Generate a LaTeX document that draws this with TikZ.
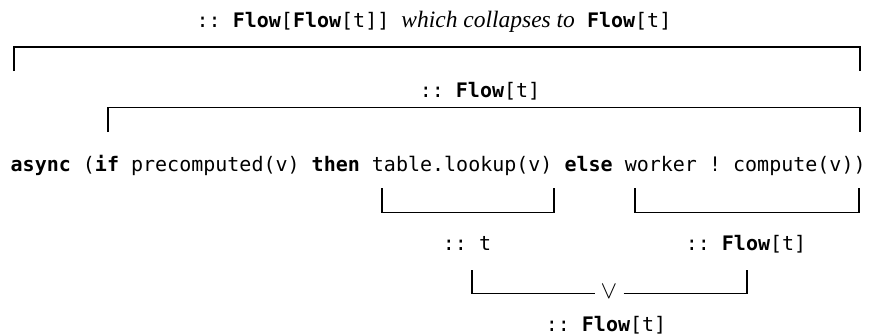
\documentclass[tikz,border=0pt]{standalone}
\usepackage{fontspec}
\setmainfont{Liberation Serif}
\setmonofont{DejaVu Sans Mono}
\usetikzlibrary{positioning}

\newcommand{\kw}[1]{\textbf{#1}}

\begin{document}
\begin{tikzpicture}[x=1pt,y=-1pt,
  every node/.style={inner sep=0pt,font=\fontsize{20}{24}\selectfont\ttfamily},
  brk/.style={line width=1.7pt}]
  \useasboundingbox (0,0) rectangle (874,335);
  % type labels and the expression
  \node (whole) [anchor=base] at (434,27) {:: \kw{Flow}[\kw{Flow}[t]] {\fontsize{23.5}{24}\rmfamily\itshape which collapses to} \kw{Flow}[t]};
  \node (mid) [anchor=base] at (480,97) {:: \kw{Flow}[t]};
  \node (code) [anchor=base west] at (10.5,171) {\kw{async} (\kw{if} precomputed(v) \kw{then} table.lookup(v) \kw{else} worker ! compute(v))};
  \node (tt) [anchor=base] at (467,250) {:: t};
  \node (tf) [anchor=base] at (746,250) {:: \kw{Flow}[t]};
  \node (orsym) [inner xsep=6pt,font=\fontsize{28}{30}\selectfont] at (609,292) {$\vee$};
  \node (res) [anchor=base] at (606,331) {:: \kw{Flow}[t]};
  % brackets
  \draw[brk] (14,71) |- (860,47) -- (860,71);
  \draw[brk] (108,132) |- (860,107.5) -- (860,132);
  \draw[brk] (382,188) |- (554,212.5) -- (554,188);
  \draw[brk] (635,188) |- (859,212.5) -- (859,188);
  \draw[brk] (orsym.west |- 0,293.5) -| (472,269.5);
  \draw[brk] (orsym.east |- 0,293.5) -| (747,269.5);
\end{tikzpicture}
\end{document}
